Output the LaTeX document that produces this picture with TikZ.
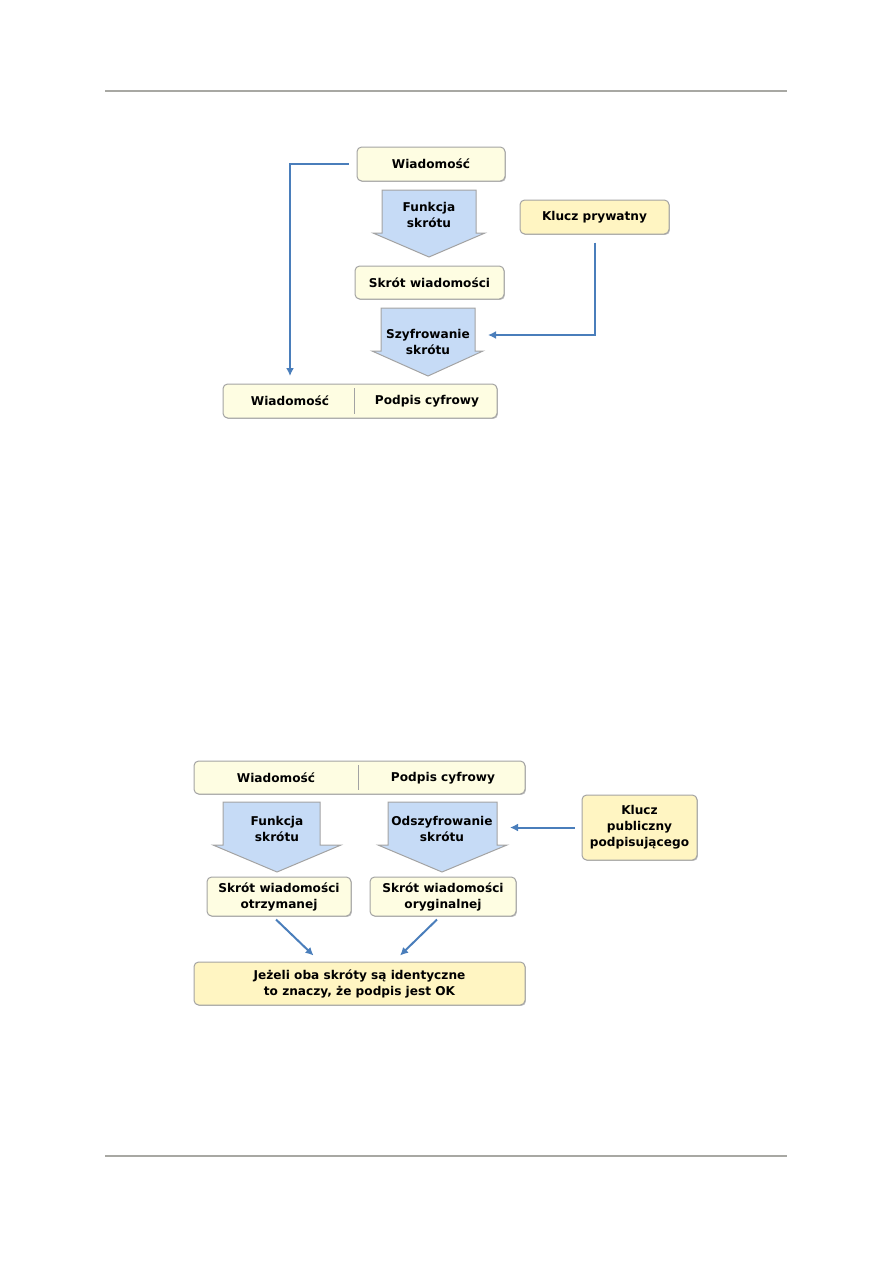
\documentclass[tikz,border=0pt]{standalone}
\usepackage{fontspec}
\setmainfont{DejaVu Sans}
\usetikzlibrary{fit,arrows.meta,shadows}
\definecolor{boxfill}{HTML}{FEFDE2}
\definecolor{keyfill}{HTML}{FFF5C2}
\definecolor{boxline}{HTML}{A3A3A3}
\definecolor{arrfill}{HTML}{C6DBF6}
\definecolor{conncol}{HTML}{4A7EBB}
\definecolor{rulecol}{HTML}{A8A8A3}
\begin{document}
\begin{tikzpicture}[x=0.75pt,y=-0.75pt,
  font=\fontsize{9.1}{12}\selectfont\bfseries,
  box/.style={draw=boxline, line width=0.75pt, fill=boxfill, rounded corners=3.5pt, inner sep=0pt,
    drop shadow={shadow xshift=0.7pt, shadow yshift=-0.7pt, opacity=0.25, fill=black}},
  keybox/.style={box, fill=keyfill},
  barrow/.style={draw=boxline, line width=0.75pt, fill=arrfill, line join=miter},
  lbl/.style={inner sep=0pt, align=center},
  conn/.style={draw=conncol, line width=1.5pt, -{Latex[length=6pt,width=6pt]}},
  rulestyle/.style={draw=rulecol, line width=1.5pt},
  divider/.style={draw=boxline, line width=0.75pt}]
\useasboundingbox (0,0) rectangle (893,1263);

% page rules
\draw[rulestyle] (105,91) -- (787,91);
\draw[rulestyle] (105,1156) -- (787,1156);

% ---------- top diagram ----------
\node[box, fit={(357,147) (505,181)}] (w1) {};
\node[lbl] (w1t) at (w1.center) {Wiadomość};
\draw[barrow] (382,190) -- (476,190) -- (476,233) -- (485,233) -- (429,257) -- (373,233) -- (382,233) -- cycle;
\node[lbl] (fa1) at (429,214.5) {Funkcja\\skrótu};
\node[keybox, fit={(520,200) (669,234)}] (kp) {};
\node[lbl] (kpt) at (kp.center) {Klucz prywatny};
\node[box, fit={(355,266) (504,299)}] (sw) {};
\node[lbl] (swt) at (sw.center) {Skrót wiadomości};
\draw[barrow] (381,308) -- (475,308) -- (475,351) -- (483,351) -- (428,376) -- (372,351) -- (381,351) -- cycle;
\node[lbl] (fa2) at (428,342) {Szyfrowanie\\skrótu};
\node[box, fit={(223,384) (497,418)}] (res) {};
\draw[divider] (354,388) -- (354,414);
\node[lbl] (rw) at (290,401) {Wiadomość};
\node[lbl] (rp) at (427,401) {Podpis cyfrowy};

\coordinate (e1) at (290,376);
\coordinate (e2) at (488,335);
\draw[conn] ([xshift=-6pt]w1.west) -| (e1);
\draw[conn] ([yshift=-6pt]kp.south) |- (e2);

% ---------- bottom diagram ----------
\node[box, fit={(194,761) (525,794)}] (inp) {};
\draw[divider] (358,765) -- (358,790);
\node[lbl] (iw) at (276,778) {Wiadomość};
\node[lbl] (ip) at (443,778) {Podpis cyfrowy};

\draw[barrow] (223,802) -- (320,802) -- (320,845) -- (341,845) -- (277,872) -- (213,845) -- (223,845) -- cycle;
\node[lbl] (fb1) at (277,828.7) {Funkcja\\skrótu};
\draw[barrow] (388,802) -- (497,802) -- (497,845) -- (507,845) -- (442,872) -- (378,845) -- (388,845) -- cycle;
\node[lbl] (fb2) at (442,828.7) {Odszyfrowanie\\skrótu};

\node[keybox, fit={(582,795) (697,860)}] (kpub) {};
\node[lbl] (kpubt) at (kpub.center) {Klucz\\publiczny\\podpisującego};
\coordinate (e3) at (510,827.5);
\draw[conn] ([xshift=-5pt]kpub.west) -- (e3);

\node[box, fit={(207,877) (351,916)}] (sw1) {};
\node[lbl] (sw1t) at (sw1.center) {Skrót wiadomości\\otrzymanej};
\node[box, fit={(370,877) (516,916)}] (sw2) {};
\node[lbl] (sw2t) at (sw2.center) {Skrót wiadomości\\oryginalnej};

\node[keybox, fit={(194,962) (525,1005)}] (jz) {};
\node[lbl] (jzt) at (jz.center) {Jeżeli oba skróty są identyczne\\to znaczy, że podpis jest OK};

\draw[conn] ([xshift=-2.25pt,yshift=-2.25pt]sw1.south) -- ([xshift=-34.5pt,yshift=4.5pt]jz.north);
\draw[conn] ([xshift=-4.5pt,yshift=-2.25pt]sw2.south) -- ([xshift=30.4pt,yshift=4.5pt]jz.north);
\end{tikzpicture}
\end{document}
